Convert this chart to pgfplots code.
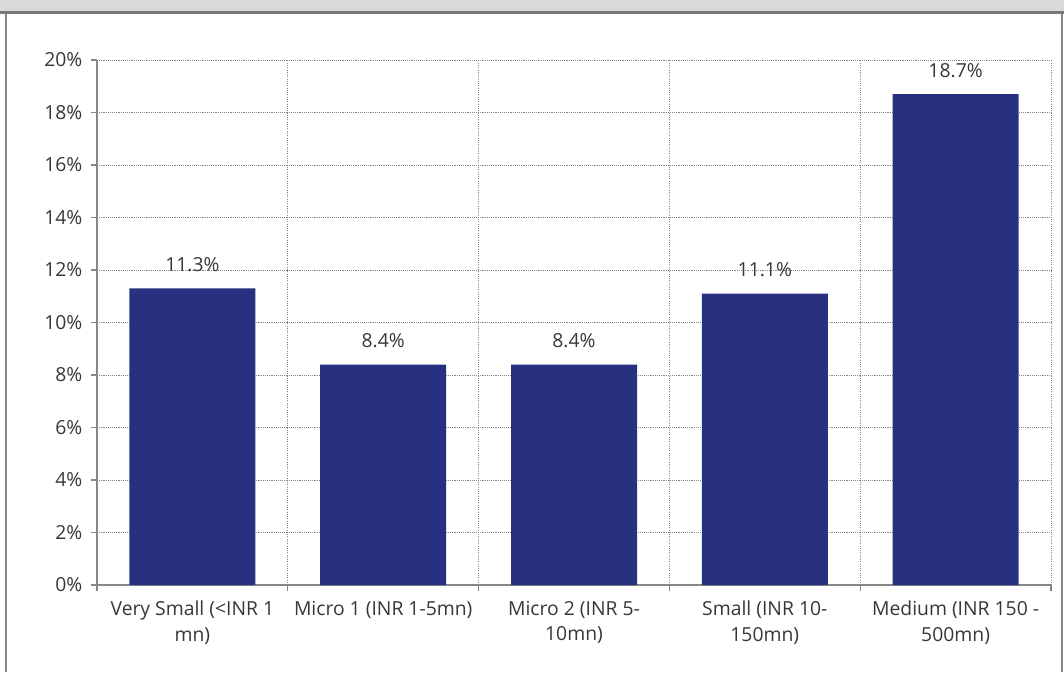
\documentclass[border=0pt]{standalone}
\usepackage{pgfplots}
\pgfplotsset{compat=1.18}
\usepackage{fontspec}
\setmainfont{Open Sans}
\definecolor{barblue}{RGB}{40,49,128}
\definecolor{txt}{RGB}{55,55,55}
\definecolor{axisgray}{RGB}{135,135,135}
\definecolor{titlebg}{RGB}{217,217,217}
\begin{document}
\begin{tikzpicture}
\begin{axis}[
  name=ax, at={(0pt,0pt)}, anchor=south west,
  width=715.5pt, height=393.75pt, scale only axis,
  xmin=-0.5, xmax=4.5, ymin=0, ymax=20,
  axis x line*=bottom, axis y line*=left,
  axis line style={axisgray, line width=1pt, -},
  tick align=outside,
  major tick length=4.5pt, minor tick length=4.5pt,
  tick style={axisgray, line width=0.8pt},
  xtick={0,1,2,3,4},
  major x tick style={draw=none},
  minor xtick={-0.5,0.5,1.5,2.5,3.5,4.5},
  xminorgrids, ymajorgrids,
  grid style={densely dotted, axisgray, line width=0.7pt},
  minor grid style={densely dotted, axisgray, line width=0.7pt},
  xticklabels={Very Small (<INR 1\\mn), Micro 1 (INR 1-5mn), Micro 2 (INR 5-\\10mn), Small (INR 10-\\150mn), Medium (INR 150 -\\500mn)},
  x tick label style={align=center, font=\fontsize{14.5}{19}\selectfont, text=txt, yshift=-4pt},
  ytick={0,2,...,20},
  yticklabel={\pgfmathprintnumber{\tick}\%},
  y tick label style={font=\fontsize{14.5}{16}\selectfont, text=txt, xshift=-3pt},
  /pgf/number format/assume math mode=true,
  ybar, bar width=94.5pt,
  nodes near coords={\pgfmathprintnumber[fixed,fixed zerofill,precision=1]{\pgfplotspointmeta}\%},
  every node near coord/.append style={font=\fontsize{14.5}{16}\selectfont, text=txt, yshift=9pt},
]
\addplot[fill=barblue, draw=none] coordinates {(0,11.3) (1,8.4) (2,8.4) (3,11.1) (4,18.7)};
\end{axis}
% frame and title strip, placed relative to the plot area (units of 0.75pt)
\begin{scope}[shift={(ax.south west)}, x=0.75pt, y=0.75pt, shift={(-97,-87)}]
\useasboundingbox (0,0) rectangle (1064,672);
\fill[titlebg] (0,660) rectangle (1064,672);
\draw[axisgray!90!black, line width=2.2pt] (0,659.5) -- (1064,659.5);
\draw[axisgray, line width=1.5pt] (6,0) -- (6,658);
\draw[axisgray, line width=1.5pt] (1062,0) -- (1062,658);
\end{scope}
\end{tikzpicture}
\end{document}
